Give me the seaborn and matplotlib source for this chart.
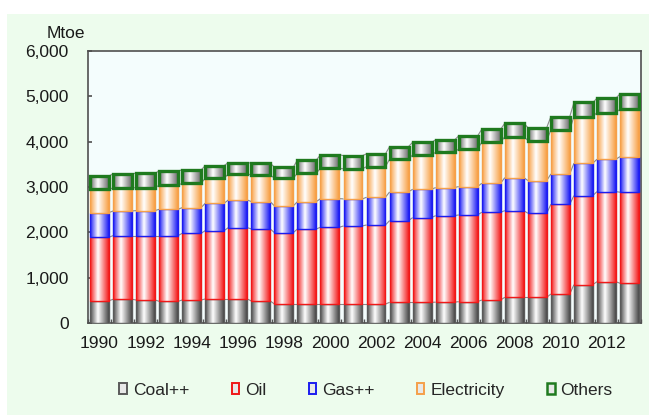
import numpy as np
import pandas as pd
import matplotlib
matplotlib.use("Agg")
import matplotlib.pyplot as plt
import seaborn as sns
from matplotlib.patches import Rectangle, Patch
from matplotlib.collections import LineCollection
from matplotlib.colors import to_rgb
from matplotlib.ticker import FuncFormatter, FixedLocator

# ---------------- data (Mtoe) ----------------
years = list(range(1990, 2014))
coal = [492, 523, 508, 478, 508, 530, 530, 486, 419, 419, 419, 419, 419, 456,
        456, 460, 471, 508, 567, 567, 640, 846, 912, 876]
oil = [1400, 1405, 1420, 1450, 1471, 1508, 1574, 1589, 1574, 1656, 1693, 1722,
       1744, 1803, 1869, 1909, 1913, 1935, 1912, 1854, 1980, 1965, 1987, 2009]
gas = [543, 544, 552, 581, 567, 604, 611, 603, 590, 603, 632, 596, 611, 633,
       626, 619, 626, 640, 729, 721, 669, 714, 714, 786]
electricity = [516, 508, 507, 531, 537, 552, 574, 589, 611, 626, 670, 663, 677,
               721, 758, 779, 831, 905, 905, 883, 971, 1030, 1030, 1046]
others = [294, 309, 317, 315, 294, 279, 250, 258, 243, 294, 294, 293, 280, 279,
          279, 273, 287, 287, 295, 287, 295, 309, 317, 338]
series_names = ["Coal++", "Oil", "Gas++", "Electricity", "Others"]
y_ticks = [0, 1000, 2000, 3000, 4000, 5000, 6000]
x_label_years = [y for y in years if y % 2 == 0]

# ---------------- styles ----------------
edge_cols = ["#5a5a5a", "#f01818", "#1c1cf0", "#f5a04a", "#1f7a1f"]
grad_cols = ["#4a4a4a", "#f41c1c", "#1c1cf4", "#f8a044", "#6a6a6a"]
edge_lw = [1.0, 1.0, 1.0, 1.0, 2.4]

sns.set_theme(style="white")
plt.rcParams["font.family"] = ["Liberation Sans", "DejaVu Sans"]
plt.rcParams["font.size"] = 12.5

W, H = 649, 415
fig = plt.figure(figsize=(W / 100, H / 100), dpi=100)
fig.patch.set_facecolor("white")
fig.patches.append(Rectangle((7 / W, 0), 1 - 7 / W, (H - 14) / H,
                             transform=fig.transFigure, facecolor="#edfced",
                             edgecolor="none", zorder=-10))
ax = fig.add_axes([88 / W, (H - 323) / H, (641 - 88) / W, (323 - 51) / H])
ax.set_zorder(1)
ax.set_facecolor("#f4fdfd")

df = pd.DataFrame({"year": years, "Coal++": coal, "Oil": oil, "Gas++": gas,
                   "Electricity": electricity, "Others": others})
vals = np.array([df[n].to_numpy() for n in series_names], dtype=float)
cums = np.cumsum(vals, axis=0)

containers = []
for k in range(len(series_names) - 1, -1, -1):
    sns.barplot(x=df["year"], y=cums[k], color=edge_cols[k], width=0.82,
                saturation=1, errorbar=None, ax=ax)
    containers.append((k, ax.containers[-1]))

def gradient(color, n=64, p=1.0, mid=0.42):
    x = np.linspace(0, 1, n)
    t = np.where(x < mid, (mid - x) / mid, (x - mid) / (1 - mid))
    w = np.clip(t, 0, 1) ** p
    c = np.array(to_rgb(color))
    row = (1 - w)[:, None] * np.ones(3) + w[:, None] * c
    return row[None, :, :]

tops = {}
for k, cont in containers:
    below = cums[k - 1] if k > 0 else np.zeros(len(years))
    g = gradient(grad_cols[k])
    for i, p in enumerate(cont.patches):
        x0, w = p.get_x(), p.get_width()
        p.set_y(below[i])
        p.set_height(cums[k][i] - below[i])
        p.set_facecolor("none")
        p.set_edgecolor(edge_cols[k])
        p.set_linewidth(edge_lw[k])
        p.set_zorder(3 + k * 0.1 + 0.05)
        ax.imshow(g, extent=(x0, x0 + w, below[i], cums[k][i]), aspect="auto",
                  zorder=3 + k * 0.1, interpolation="bilinear")
    tops[k] = [(p.get_x(), p.get_x() + p.get_width(), p.get_y() + p.get_height())
               for p in cont.patches]

# series lines
segs = []
for k in range(len(series_names)):
    t = tops[k]
    for i in range(len(t) - 1):
        segs.append([(t[i][1], t[i][2]), (t[i + 1][0], t[i + 1][2])])
ax.add_collection(LineCollection(segs, colors="#8a8a8a", linewidths=0.8, zorder=2.9))

ax.set_xlim(-0.5, len(years) - 0.5)
ax.set_ylim(0, 6000)
ax.set_xlabel("")
ax.set_ylabel("")
ax.set_yticks(y_ticks)
ax.yaxis.set_major_formatter(FuncFormatter(lambda v, _: f"{int(v):,}"))
pos = [years.index(y) for y in x_label_years]
ax.set_xticks(pos)
ax.set_xticklabels([str(y) for y in x_label_years])
ax.xaxis.set_minor_locator(FixedLocator(np.arange(-0.5, len(years), 1.0)))
ax.tick_params(axis="x", which="major", length=0, pad=9, labelsize=12.5, colors="#1a1a1a")
ax.tick_params(axis="x", which="minor", direction="in", length=3, color="#555555", bottom=True)
ax.tick_params(axis="y", which="major", direction="in", length=3, pad=14,
               labelsize=12.5, colors="#555555", labelcolor="#1a1a1a", left=True)
for s in ax.spines.values():
    s.set_visible(True)
    s.set_color("#505050")
    s.set_linewidth(1.2)

fig.text(85 / W, (H - 34) / H, "Mtoe", ha="right", va="center", fontsize=12.5, color="#1a1a1a")

handles = [Patch(facecolor="#e8e8e8", edgecolor=edge_cols[k], linewidth=1.4 if k < 4 else 1.8,
                 label=series_names[k]) for k in range(5)]
fig.legend(handles=handles, loc="center", bbox_to_anchor=(366 / W, (H - 390) / H),
           ncol=5, frameon=False, handlelength=0.42, handleheight=0.55,
           handletextpad=0.35, columnspacing=2.45, fontsize=12.5)

fig.savefig("out.png", dpi=100)
